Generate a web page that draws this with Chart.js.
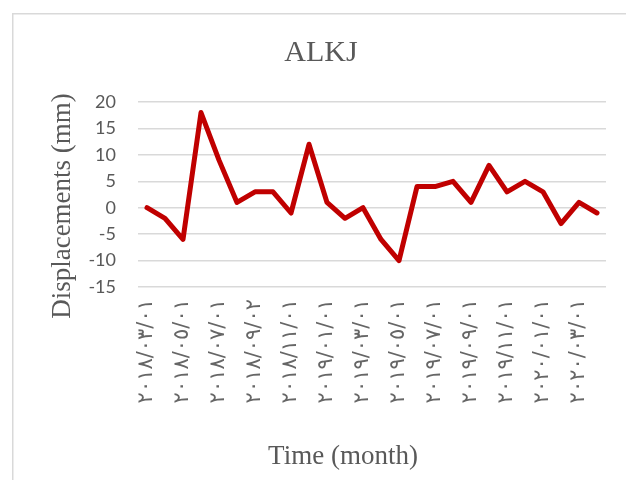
<!DOCTYPE html>
<html>
<head>
<meta charset="utf-8">
<script src="https://cdn.jsdelivr.net/npm/chart.js@4/dist/chart.umd.min.js"></script>
<style>
  html, body { margin: 0; padding: 0; background: #ffffff; }
  #wrap { width: 627px; height: 480px; position: relative; }
</style>
</head>
<body>
<div id="wrap"><canvas id="c" width="627" height="480"></canvas></div>
<script>
// Monthly survey dates (Arabic-Indic digits)
const months = [
  "٢٠١٨/٠٣/٠١", "٢٠١٨/٠٤/٠١", "٢٠١٨/٠٥/٠١", "٢٠١٨/٠٦/٠١", "٢٠١٨/٠٧/٠١", "٢٠١٨/٠٨/٠١",
  "٢٠١٨/٠٩/٠٢", "٢٠١٨/١٠/٠١", "٢٠١٨/١١/٠١", "٢٠١٨/١٢/٠١", "٢٠١٩/٠١/٠١", "٢٠١٩/٠٢/٠١",
  "٢٠١٩/٠٣/٠١", "٢٠١٩/٠٤/٠١", "٢٠١٩/٠٥/٠١", "٢٠١٩/٠٦/٠١", "٢٠١٩/٠٧/٠١", "٢٠١٩/٠٨/٠١",
  "٢٠١٩/٠٩/٠١", "٢٠١٩/١٠/٠١", "٢٠١٩/١١/٠١", "٢٠١٩/١٢/٠١", "٢٠٢٠/٠١/٠١", "٢٠٢٠/٠٢/٠١",
  "٢٠٢٠/٠٣/٠١", "٢٠٢٠/٠٤/٠١"
];

// Displacement readings (mm)
const displacements = [0, -2, -6, 18, 9, 1, 3, 3, -1, 12, 1, -2, 0, -6, -10, 4, 4, 5, 1, 8, 3, 5, 3, -3, 1, -1];

// Value axis ticks
const yTicks = [-15, -10, -5, 0, 5, 10, 15, 20];

// Titles
const chartTitle = 'ALKJ';
const xTitle = 'Time (month)';
const yTitle = 'Displacements (mm)';

const textGrey = '#595959';
const gridGrey = '#d9d9d9';
const serif = '"Liberation Serif", "Times New Roman", serif';

// Light frame around the whole chart
const framePlugin = {
  id: 'frame',
  beforeDraw(chart) {
    const ctx = chart.ctx;
    ctx.save();
    ctx.fillStyle = '#ffffff';
    ctx.fillRect(0, 0, chart.width, chart.height);
    ctx.strokeStyle = gridGrey;
    ctx.lineWidth = 1.5;
    ctx.beginPath();
    ctx.moveTo(12.75, chart.height + 2);
    ctx.lineTo(12.75, 13.75);
    ctx.lineTo(chart.width - 1, 13.75);
    ctx.stroke();
    ctx.restore();
  }
};

// Axis titles, placed in the space reserved around the plot
const axisTitlePlugin = {
  id: 'axisTitles',
  afterDraw(chart) {
    const ctx = chart.ctx;
    ctx.save();
    ctx.fillStyle = textGrey;
    ctx.font = '27px ' + serif;
    ctx.textAlign = 'center';
    ctx.textBaseline = 'middle';
    ctx.fillText(xTitle, 343, 457);
    ctx.translate(63, 206);
    ctx.rotate(-Math.PI / 2);
    ctx.fillText(yTitle, 0, 0);
    ctx.restore();
  }
};

new Chart(document.getElementById('c'), {
  type: 'line',
  data: {
    labels: months,
    datasets: [{
      data: displacements,
      borderColor: '#c00000',
      borderWidth: 5,
      pointRadius: 0,
      pointHoverRadius: 0,
      tension: 0,
      borderJoinStyle: 'round',
      borderCapStyle: 'round',
      fill: false
    }]
  },
  options: {
    responsive: false,
    animation: false,
    events: [],
    layout: { padding: { top: 0, left: 36, right: 21, bottom: 0 } },
    plugins: {
      legend: { display: false },
      tooltip: { enabled: false },
      title: {
        display: true,
        text: chartTitle,
        color: textGrey,
        font: { family: serif, size: 30, weight: 'normal' },
        padding: { top: 35, bottom: 31 }
      }
    },
    scales: {
      x: {
        type: 'category',
        offset: true,
        grid: { display: false, drawTicks: false },
        border: { display: false },
        ticks: {
          autoSkip: false,
          maxRotation: 90,
          minRotation: 90,
          padding: 12,
          color: '#666666',
          font: { family: '"DejaVu Sans", sans-serif', size: 21 },
          callback: function (value, index) {
            return index % 2 === 0 ? this.getLabelForValue(value) : '';
          }
        },
        afterFit(scale) {
          scale.height = 193;
          scale.paddingLeft = 0;
          scale.paddingRight = 0;
        }
      },
      y: {
        min: -15,
        max: 20,
        afterBuildTicks(scale) { scale.ticks = yTicks.map(v => ({ value: v })); },
        grid: { color: gridGrey, lineWidth: 1.5, drawTicks: false },
        border: { display: false },
        ticks: {
          padding: 22,
          color: textGrey,
          font: { family: 'Lato, "Open Sans", sans-serif', size: 18 }
        },
        afterFit(scale) { scale.width = 102; }
      }
    }
  },
  plugins: [framePlugin, axisTitlePlugin]
});
</script>
</body>
</html>
